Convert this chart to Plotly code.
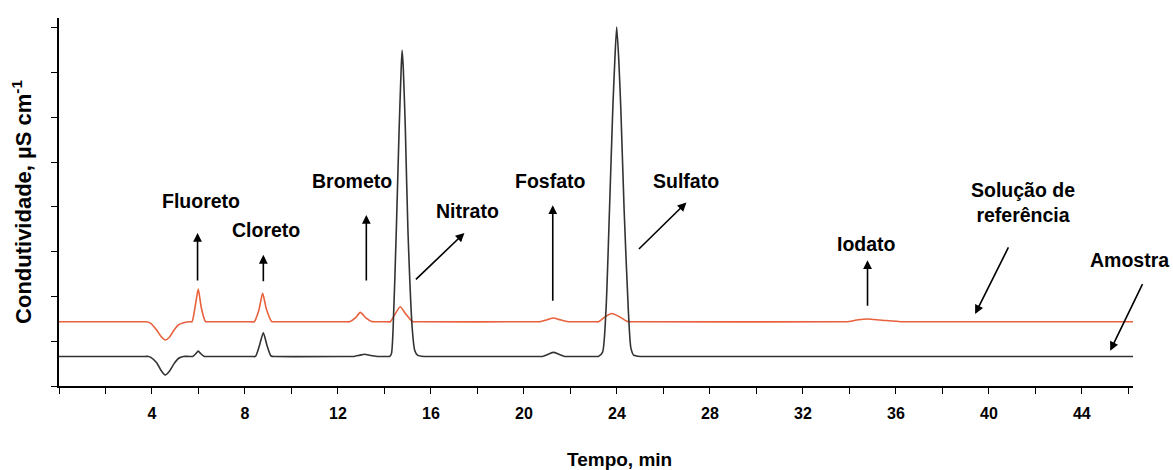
import plotly.graph_objects as go

# ---- data ----
# Amostra (sample) trace, black
amostra_t = [0, 3.7, 3.85, 3.95, 4.2, 4.4, 4.57, 4.75, 4.95, 5.15, 5.35, 5.6, 5.75, 5.88, 5.99, 6.1, 6.25, 6.4,
             8.3, 8.45, 8.62, 8.79, 8.95, 9.12, 9.3,
             12.55, 12.7, 12.95, 13.15, 13.4, 13.7, 13.85,
             14.1, 14.22, 14.3, 14.37, 14.51, 14.63, 14.72, 14.76, 14.81, 14.9, 15.01, 15.2, 15.3, 15.42, 15.7, 15.85,
             20.65, 20.8, 21.05, 21.27, 21.5, 21.75, 21.9,
             23.05, 23.2, 23.38, 23.53, 23.68, 23.82, 23.91, 23.99, 24.08, 24.17, 24.31, 24.49, 24.6, 24.72, 25.0, 25.15,
             46.2]
amostra_y = [0.66, 0.66, 0.66, 0.64, 0.52, 0.34, 0.245, 0.33, 0.50, 0.62, 0.66, 0.66, 0.66, 0.72, 0.78, 0.72, 0.66, 0.66,
             0.66, 0.66, 0.90, 1.19, 0.90, 0.67, 0.66,
             0.66, 0.66, 0.69, 0.71, 0.68, 0.66, 0.66,
             0.66, 0.66, 0.72, 1.25, 3.48, 5.71, 7.10, 7.50, 7.10, 5.71, 3.48, 1.25, 0.80, 0.69, 0.66, 0.66,
             0.66, 0.66, 0.71, 0.75, 0.71, 0.66, 0.66,
             0.66, 0.66, 0.75, 1.70, 3.93, 6.16, 7.28, 8.02, 7.28, 6.16, 3.93, 1.70, 0.85, 0.69, 0.66, 0.66,
             0.66]

# Solução de referência (reference solution) trace, red
referencia_t = [0, 3.6, 3.75, 3.95, 4.2, 4.4, 4.57, 4.75, 4.95, 5.15, 5.4, 5.6, 5.72, 5.85, 5.99, 6.12, 6.3, 6.45,
                8.25, 8.4, 8.6, 8.76, 8.92, 9.15, 9.3,
                12.35, 12.5, 12.75, 12.96, 13.2, 13.45, 13.6,
                14.1, 14.25, 14.45, 14.68, 14.9, 15.2, 15.35,
                20.55, 20.7, 21.0, 21.27, 21.55, 21.9, 22.05,
                23.05, 23.2, 23.5, 23.78, 24.1, 24.45, 24.6,
                33.7, 33.9, 34.4, 34.77, 35.3, 36.2, 36.4,
                46.2]
referencia_y = [1.435, 1.435, 1.435, 1.40, 1.25, 1.10, 1.027, 1.09, 1.25, 1.37, 1.42, 1.435, 1.435, 1.75, 2.165, 1.75, 1.44, 1.435,
                1.435, 1.435, 1.70, 2.07, 1.72, 1.44, 1.435,
                1.435, 1.435, 1.52, 1.645, 1.52, 1.44, 1.435,
                1.435, 1.435, 1.60, 1.77, 1.62, 1.44, 1.435,
                1.435, 1.435, 1.48, 1.52, 1.48, 1.435, 1.435,
                1.435, 1.435, 1.55, 1.62, 1.55, 1.44, 1.435,
                1.435, 1.435, 1.48, 1.495, 1.475, 1.435, 1.435,
                1.435]

x_tickvals = list(range(0, 47, 2))
x_ticktext = ["<b>" + str(v) + "</b>" if (v % 4 == 0 and v > 0) else "" for v in x_tickvals]
y_tickvals = list(range(0, 9))

# peak labels: (text, text_x, text_y, head_x, head_y, tail_dx_px, tail_dy_px)
labels = [
    ("Fluoreto", 6.12, 4.13, 5.96, 3.42, 0, 49),
    ("Cloreto", 8.91, 3.48, 8.79, 2.93, 0, 28),
    ("Brometo", 12.62, 4.58, 13.22, 3.82, 0, 67),
    ("Nitrato", 17.57, 3.91, 17.44, 3.42, -50, 48),
    ("Fosfato", 21.15, 4.58, 21.24, 4.04, 0, 97),
    ("Sulfato", 26.96, 4.58, 26.99, 4.10, -49, 48),
    ("Iodato", 34.75, 3.17, 34.78, 2.81, 0, 47),
    ("Solução de<br>referência", 41.47, 4.11, 39.41, 1.61, 34, -68),
    ("Amostra", 46.05, 2.81, 45.22, 0.79, 33, -68),
]

FONT = "Liberation Sans, Arial, sans-serif"

fig = go.Figure()
fig.add_trace(go.Scatter(x=referencia_t, y=referencia_y, mode="lines",
                         line=dict(color="#E8603C", width=1.6, shape="spline", smoothing=0.6),
                         name="Solução de referência", showlegend=False))
fig.add_trace(go.Scatter(x=amostra_t, y=amostra_y, mode="lines",
                         line=dict(color="#333333", width=1.6, shape="spline", smoothing=0.6),
                         name="Amostra", showlegend=False))

annotations = []
for text, tx, ty, hx, hy, dx, dy in labels:
    annotations.append(dict(x=tx, y=ty, xref="x", yref="y", text="<b>" + text + "</b>",
                            showarrow=False, font=dict(family=FONT, size=19.5, color="black"),
                            xanchor="center", yanchor="middle"))
    annotations.append(dict(x=hx, y=hy, xref="x", yref="y", text="", showarrow=True,
                            ax=dx, ay=dy, arrowhead=2, arrowsize=1.1, arrowwidth=1.6,
                            arrowcolor="black", standoff=0))

annotations.append(dict(x=-0.0345, y=0.50, xref="paper", yref="paper",
                        text="<b>Condutividade, µS cm<sup>-1</sup></b>", textangle=-90,
                        showarrow=False, font=dict(family=FONT, size=22, color="black"),
                        xanchor="center", yanchor="middle"))
annotations.append(dict(x=0.522, y=-0.201, xref="paper", yref="paper",
                        text="<b>Tempo, min</b>", showarrow=False,
                        font=dict(family=FONT, size=19, color="black"),
                        xanchor="center", yanchor="middle"))

fig.update_layout(
    width=1173, height=470,
    margin=dict(l=59, r=40, t=18, b=84),
    paper_bgcolor="white", plot_bgcolor="white",
    annotations=annotations,
    font=dict(family=FONT, color="black"),
)
fig.update_xaxes(range=[0, 46.2], tickvals=x_tickvals, ticktext=x_ticktext,
                 showline=True, linecolor="black", linewidth=1.5,
                 ticks="outside", ticklen=6, tickwidth=1.3, tickcolor="black",
                 tickfont=dict(family=FONT, size=16, color="black"),
                 ticklabelstandoff=6,
                 showgrid=False, zeroline=False)
fig.update_yaxes(range=[0, 8.22], tickvals=y_tickvals, showticklabels=False,
                 showline=True, linecolor="black", linewidth=1.5,
                 ticks="outside", ticklen=6, tickwidth=1.3, tickcolor="black",
                 showgrid=False, zeroline=False)

fig.write_html("out.html")
